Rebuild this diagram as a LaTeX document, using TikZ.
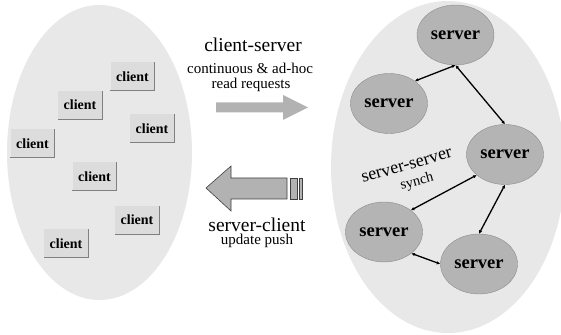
\documentclass[tikz,border=0pt]{standalone}
\usepackage{fontspec}
\setmainfont{Liberation Serif}
\usetikzlibrary{arrows.meta,shapes.geometric}
\definecolor{cloudgray}{HTML}{E8E8E8}
\definecolor{boxgray}{HTML}{DCDCDC}
\definecolor{servgray}{HTML}{B4B4B4}
\definecolor{arrowgray}{HTML}{B2B2B2}
\tikzset{
  clientbox/.style={fill=boxgray, minimum width=44pt, minimum height=28pt, inner sep=0pt,
    font=\fontsize{14}{16}\selectfont\bfseries},
  serverblob/.style={ellipse, fill=servgray, draw=black!45, minimum width=77pt, minimum height=60pt,
    inner sep=0pt, font=\fontsize{18.5}{20}\selectfont\bfseries},
  sync/.style={{Latex[length=3.5pt,width=3.5pt]}-{Latex[length=3.5pt,width=3.5pt]}, line width=1.3pt},
  bigtext/.style={font=\fontsize{19.5}{21}\selectfont, anchor=base},
  smalltext/.style={font=\fontsize{15}{17}\selectfont, anchor=base}
}
\begin{document}
\begin{tikzpicture}[x=1pt,y=1pt]
    \useasboundingbox (0,0) rectangle (561,334);
    % the two groups
    \fill[cloudgray] (99.5,181.5) ellipse [x radius=92.5, y radius=147.5];
    \fill[cloudgray] (448,167) ellipse [x radius=117, y radius=166];
    % clients
    \node[clientbox] (c1) at (132.5,257.5) {client};
    \node[clientbox] (c2) at (80,229) {client};
    \node[clientbox] (c3) at (152,205.5) {client};
    \node[clientbox] (c4) at (32.5,190.5) {client};
    \node[clientbox] (c5) at (94.5,157.5) {client};
    \node[clientbox] (c6) at (137,114) {client};
    \node[clientbox] (c7) at (66,90.5) {client};
    \foreach \c in {c1,c2,c3,c4,c5,c6,c7}
        \draw[black!50, line width=0.8pt] (\c.north east) -- (\c.south east) -- (\c.south west);
    % servers
    \node[serverblob] (s1) at (455.5,299) {server};
    \node[serverblob] (s2) at (389,230.5) {server};
    \node[serverblob] (s3) at (505,179.5) {server};
    \node[serverblob] (s4) at (384,102) {server};
    \node[serverblob] (s5) at (479,70) {server};
    \draw[sync] (s1.south) -- (s2.41);
    \draw[sync] (s1.south) -- (s3.north);
    \draw[sync] (s3.216) -- (s4.39);
    \draw[sync] (s3.south) -- (s5.north);
    \draw[sync] (s4.-38) -- (s5.west);
    \node[font=\fontsize{18}{20}\selectfont, anchor=base, rotate=16] (ss) at (408,164) {server-server};
    \node[font=\fontsize{14.5}{16}\selectfont, rotate=15] (synch) at (417,152) {synch};
    % client-server
    \node[bigtext] (cs) at (253,282) {client-server};
    \node[smalltext] (cs1) at (250,260) {continuous \& ad-hoc};
    \node[smalltext] (cs2) at (251,245) {read requests};
    \fill[arrowgray] (216,231.5) -- (283,231.5) -- (283,239) -- (308,226.5) -- (283,214)
        -- (283,221.5) -- (216,221.5) -- cycle;
    % server-client
    \draw[fill=arrowgray, draw=black!75, line width=0.6pt] (206,146) -- (231,168) -- (231,156)
        -- (287,156) -- (287,135) -- (231,135) -- (231,123) -- cycle;
    \draw[fill=arrowgray, draw=black!75, line width=0.6pt] (290,156) rectangle (297,135);
    \draw[fill=arrowgray, draw=black!75, line width=0.6pt] (299,156) rectangle (302,135);
    \node[bigtext] (sc) at (257,102) {server-client};
    \node[smalltext] (sc1) at (257,89) {update push};
\end{tikzpicture}
\end{document}
